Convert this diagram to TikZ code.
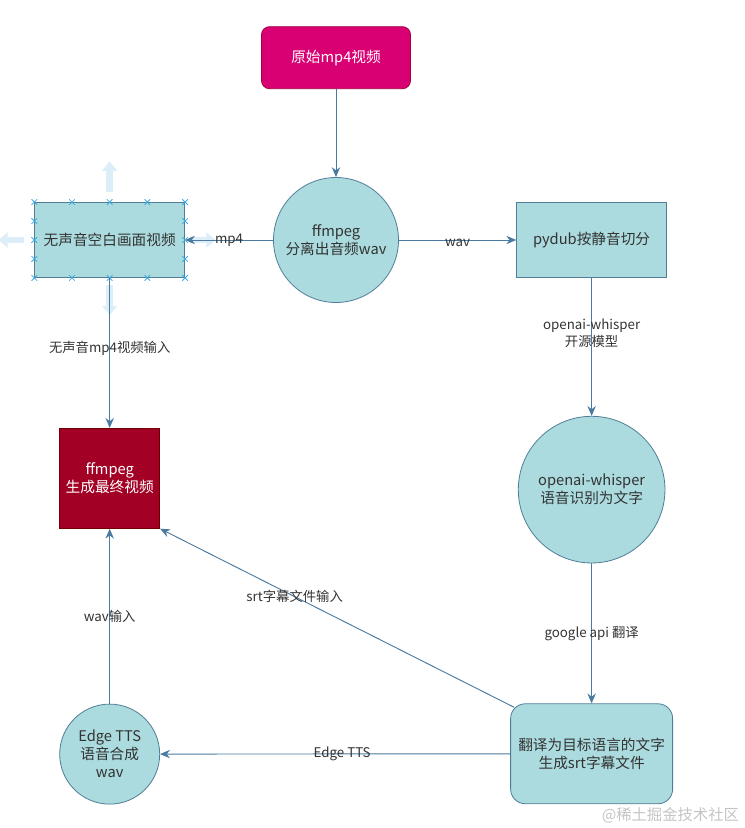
\documentclass[tikz,border=0pt]{standalone}
\usepackage{fontspec}
\setmainfont{Noto Sans CJK SC}
\usepackage{xcolor}
\definecolor{FlowTeal}{HTML}{ABDBDE}
\definecolor{FlowEdge}{HTML}{4F7E96}
\definecolor{FlowLine}{HTML}{4A7AA0}
\definecolor{FlowText}{HTML}{333333}
\definecolor{FlowMagenta}{HTML}{D80073}
\definecolor{FlowMagentaDark}{HTML}{A50040}
\definecolor{FlowCrimson}{HTML}{A20025}
\definecolor{FlowCrimsonDark}{HTML}{6F0000}
\definecolor{FlowHandle}{HTML}{3FAAE0}
\definecolor{FlowHint}{HTML}{DCEEF8}
\definecolor{FlowMark}{HTML}{C4C4C4}
\usepackage{tikz}
\usetikzlibrary{arrows.meta,calc,positioning,shapes.misc}

\begin{document}
\begin{tikzpicture}[
    font=\fontsize{11}{13.5}\selectfont,
    box/.style={draw=FlowEdge,fill=FlowTeal,text=FlowText,align=center,inner sep=2pt,
      minimum width=112.5pt,minimum height=56.25pt,line width=.6pt},
    disc/.style={circle,draw=FlowEdge,fill=FlowTeal,text=FlowText,align=center,inner sep=1pt,line width=.6pt},
    source/.style={draw=FlowMagentaDark,fill=FlowMagenta,text=white,rounded corners=6pt,align=center,
      minimum width=111.75pt,minimum height=46.5pt,line width=.6pt},
    result/.style={draw=FlowCrimsonDark,fill=FlowCrimson,text=white,align=center,
      minimum width=75pt,minimum height=75pt,line width=.6pt},
    flow/.style={-{Stealth[length=2.6mm,width=2.2mm]},line width=.7pt,color=FlowLine},
    lbl/.style={font=\fontsize{10}{12.5}\selectfont,text=FlowText,align=center,inner sep=1pt},
    handle/.style={cross out,draw=FlowHandle,minimum size=3.6pt,inner sep=0pt,line width=.6pt},
    hint/.style={-{Triangle[length=7pt,width=11pt]},line width=5pt,color=FlowHint}
  ]
    \useasboundingbox (-252pt,-441pt) rectangle (306pt,180pt);

    \node[disc,minimum size=93.75pt] (split) {ffmpeg\\分离出音频wav};
    \node[source,above=66pt of split] (origin) {原始mp4视频};
    \node[box,left=66pt of split] (silent) {无声音空白画面视频};
    \node[box,right=88pt of split] (pydub) {pydub按静音切分};
    \node[disc,minimum size=110pt,below=103.5pt of pydub] (whisper) {openai-whisper\\语音识别为文字};
    \node[box,rounded corners=11pt,minimum width=121.5pt,minimum height=75pt,below=105pt of whisper] (translate)
      {翻译为目标语言的文字\\生成srt字幕文件};
    \node[result,below=112.5pt of silent] (final) {ffmpeg\\生成最终视频};
    \node[disc,minimum size=75pt,below=131.25pt of final] (tts) {Edge TTS\\语音合成\\wav};

    % selection handles left over round the silent box
    \draw[hint] ([yshift=7.5pt]silent.north) -- ++(0,23pt);
    \draw[hint] ([yshift=-5pt]silent.south) -- ++(0,-23pt);
    \draw[hint] ([xshift=-8pt]silent.west) -- ++(-19pt,0);
    \draw[hint] ([xshift=4pt]silent.east) -- ++(19pt,0);
    \foreach \f in {0,0.25,0.5,0.75,1} {
      \node[handle] at ($(silent.north west)!\f!(silent.north east)$) {};
      \node[handle] at ($(silent.south west)!\f!(silent.south east)$) {};
    }
    \foreach \f in {0.25,0.5,0.75} {
      \node[handle] at ($(silent.north west)!\f!(silent.south west)$) {};
      \node[handle] at ($(silent.north east)!\f!(silent.south east)$) {};
    }

    \draw[flow] (origin) -- (split);
    \draw[flow] (split) -- node[lbl] {mp4} (silent);
    \draw[flow] (split) -- node[lbl,yshift=-2pt] {wav} (pydub);
    \draw[flow] (pydub) -- node[lbl,pos=.4] {openai-whisper\\开源模型} (whisper);
    \draw[flow] (whisper) -- node[lbl] {google api 翻译} (translate);
    \draw[flow] (translate) -- node[lbl,pos=.48] {Edge TTS} (tts);
    \draw[flow] ([shift={(3pt,-3pt)}]translate.north west) -- node[lbl,pos=.62] {srt字幕文件输入} (final.south east);
    \draw[flow] (tts) -- node[lbl] {wav输入} (final);
    \draw[flow] (silent) -- node[lbl,pos=.47] {无声音mp4视频输入} (final);

    \node[text=FlowMark,font=\fontsize{11.5}{13}\selectfont] (mark) at ([shift={(-2pt,-8.5pt)}]translate.south east)
      {@稀土掘金技术社区};
  \end{tikzpicture}
\end{document}
